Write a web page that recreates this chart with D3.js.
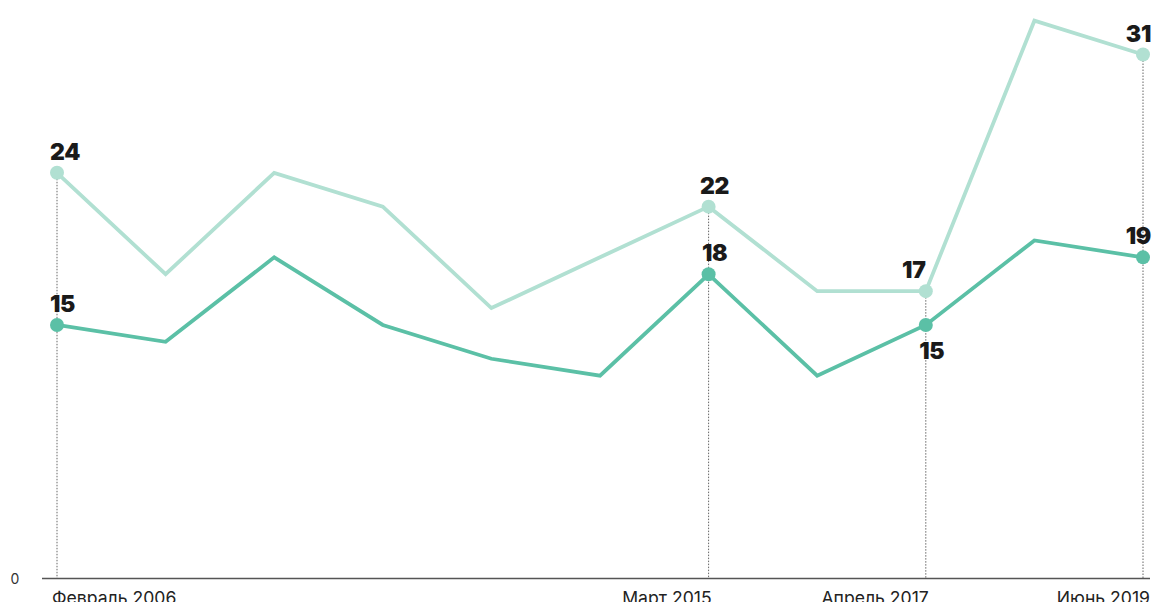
<!DOCTYPE html>
<html lang="ru">
<head>
  <meta charset="UTF-8">
  <title>chart</title>
  <style>
    body { margin: 0; background: #fff; }
    svg { display: block; font-family: Inter, "Noto Sans", sans-serif; }
  </style>
</head>
<body>
  <svg width="1173" height="602"></svg>
  <script src="https://d3js.org/d3.v7.min.js"></script>
  <script>
    // data
    var lightSeries = [24, 18, 24, 22, 16, 19, 22, 17, 17, 33, 31];
    var darkSeries  = [15, 14, 19, 15, 13, 12, 18, 12, 15, 20, 19];
    var tickIdx    = [0, 6, 8, 10];
    var tickLabels = ["Февраль 2006", "Март 2015", "Апрель 2017", "Июнь 2019"];
    // points that get a value label
    var lightMarked = [0, 6, 8, 10];
    var darkMarked  = [0, 6, 8, 10];
    var darkBelow   = [8];

    var svg = d3.select("svg");
    var x = d3.scaleLinear().domain([0, 10]).range([57, 1143]);
    var y = d3.scaleLinear().domain([0, 31]).range([578.5, 54.5]);

    var lightColor = "#b1e0d2", darkColor = "#5bc0a6";

    // dotted guide lines from the top marked point to the axis
    var g = svg.append("g");
    tickIdx.forEach(function(i) {
      g.append("line")
        .attr("x1", x(i)).attr("x2", x(i))
        .attr("y1", y(Math.max(lightSeries[i], darkSeries[i])))
        .attr("y2", y(0))
        .attr("stroke", "#666").attr("stroke-width", 1)
        .attr("stroke-dasharray", "1.5,1.5");
    });

    // baseline
    svg.append("line")
      .attr("x1", 42).attr("x2", 1150)
      .attr("y1", y(0)).attr("y2", y(0))
      .attr("stroke", "#555").attr("stroke-width", 1.5);

    svg.append("text")
      .attr("x", 15).attr("y", y(0) + 5)
      .attr("text-anchor", "middle")
      .attr("font-size", 14).attr("fill", "#333")
      .text("0");

    var line = d3.line()
      .x(function(d, i) { return x(i); })
      .y(function(d) { return y(d); });

    [[lightSeries, lightColor], [darkSeries, darkColor]].forEach(function(s) {
      svg.append("path")
        .datum(s[0])
        .attr("fill", "none")
        .attr("stroke", s[1])
        .attr("stroke-width", 3.8)
        .attr("stroke-linejoin", "miter")
        .attr("d", line);
    });

    function anchorFor(i) {
      if (i === 0) return "start";
      if (i === 10) return "end";
      return "middle";
    }
    function dxFor(i) {
      if (i === 0) return -7;
      if (i === 10) return 8;
      if (i === 8) return -12;
      return 6;
    }

    function marks(series, idx, color, below) {
      idx.forEach(function(i) {
        svg.append("circle")
          .attr("cx", x(i)).attr("cy", y(series[i]))
          .attr("r", 7).attr("fill", color);
        var isBelow = below.indexOf(i) >= 0;
        svg.append("text")
          .attr("x", x(i) + (isBelow ? 6 : dxFor(i)))
          .attr("y", y(series[i]) + (isBelow ? 34 : -13))
          .attr("text-anchor", anchorFor(i))
          .attr("font-size", 23).attr("font-weight", 900)
          .attr("fill", "#1a1a1a")
          .attr("letter-spacing", -0.3)
          .text(series[i]);
      });
    }
    marks(lightSeries, lightMarked, lightColor, []);
    marks(darkSeries, darkMarked, darkColor, darkBelow);

    // x tick labels (cut by the bottom edge, as in the source)
    tickIdx.forEach(function(i, k) {
      svg.append("text")
        .attr("x", x(i) + (i === 0 ? -5 : (i === 10 ? 7 : 3)))
        .attr("y", 604)
        .attr("text-anchor", i === 0 ? "start" : "end")
        .attr("font-size", 17.6).attr("fill", "#222")
        .text(tickLabels[k]);
    });
  </script>
</body>
</html>
